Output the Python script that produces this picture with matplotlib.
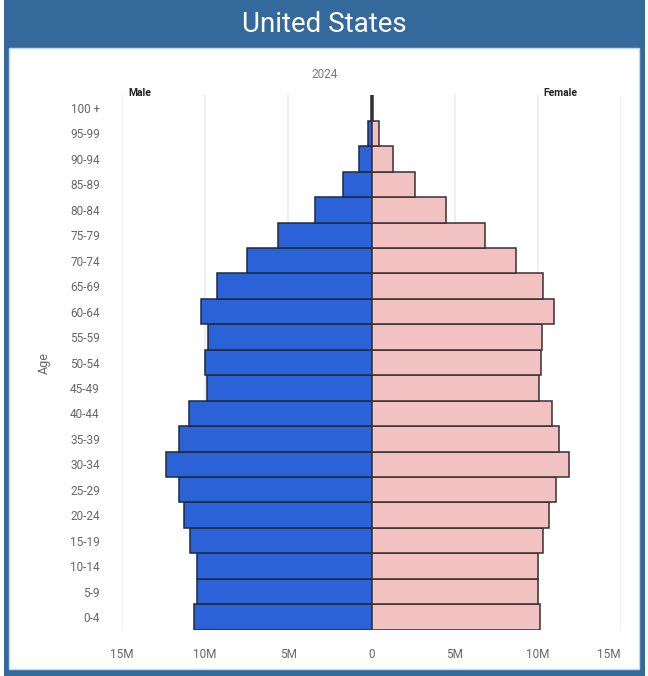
import matplotlib
matplotlib.use('Agg')
import matplotlib.pyplot as plt
from matplotlib.patches import Rectangle
import numpy as np

plt.rcParams['font.family'] = ['Roboto', 'DejaVu Sans']

# === 数据 (百万人) ===
age_groups = ['0-4', '5-9', '10-14', '15-19', '20-24', '25-29', '30-34', '35-39',
              '40-44', '45-49', '50-54', '55-59', '60-64', '65-69', '70-74',
              '75-79', '80-84', '85-89', '90-94', '95-99', '100 +']
male = [10.70, 10.52, 10.50, 10.94, 11.27, 11.58, 12.37, 11.60, 10.96, 9.90, 9.98,
        9.84, 10.26, 9.30, 7.50, 5.60, 3.37, 1.70, 0.74, 0.22, 0.03]
female = [10.14, 10.04, 9.98, 10.32, 10.68, 11.10, 11.89, 11.27, 10.88, 10.06, 10.22,
          10.26, 10.98, 10.30, 8.67, 6.80, 4.46, 2.60, 1.28, 0.45, 0.08]
xticks = [-15, -10, -5, 0, 5, 10, 15]
xtick_labels = ['15M', '10M', '5M', '0', '5M', '10M', '15M']

W, H = 648, 676
fig = plt.figure(figsize=(W / 100, H / 100), dpi=100)

# === 外框 + 标题栏 ===
frame_blue = '#34699c'
fig.patches.append(Rectangle((4 / W, 0), 641 / W, 1, transform=fig.transFigure,
                             facecolor=frame_blue, edgecolor='none', zorder=0))
fig.patches.append(Rectangle((9 / W, 7 / H), 630 / W, (H - 7 - 48) / H, transform=fig.transFigure,
                             facecolor='white', edgecolor='#c9d8e8', linewidth=1, zorder=1))
fig.text(0.5, 1 - 25 / H, 'United States', color='white', fontsize=20,
         ha='center', va='center')

# === 主图 ===
ax = fig.add_axes([122 / W, 1 - 629.7 / H, 499 / W, 534.4 / H])
ax.set_zorder(3)
ax.patch.set_alpha(0)
y = np.arange(len(age_groups))
ax.barh(y, [-v for v in male], height=1.0, color='#2c62d8', edgecolor='#1f2a3a',
        linewidth=1.1, zorder=3)
ax.barh(y, female, height=1.0, color='#f2c1c1', edgecolor='#3a3030',
        linewidth=1.1, zorder=3)

ax.set_xlim(-15, 15)
ax.set_ylim(-0.5, len(age_groups) - 0.5)
ax.set_xticks(xticks)
ax.set_xticklabels(xtick_labels)
ax.get_xticklabels()[-1].set_ha('right')
ax.set_yticks(y)
ax.set_yticklabels(age_groups)
ax.tick_params(axis='both', length=0, labelsize=8.5, labelcolor='#666666')
ax.tick_params(axis='x', pad=13)
ax.tick_params(axis='y', pad=16)
for xv in xticks:
    if xv != 0:
        ax.axvline(xv, color='#e9edf2', linewidth=1.2, zorder=1)
for s in ax.spines.values():
    s.set_visible(False)
ax.set_ylabel('Age', color='#666666', fontsize=9, labelpad=14)

fig.text(325 / W, 1 - 75 / H, '2024', color='#777777', fontsize=8.5, ha='center', va='center')
fig.text(128 / W, 1 - 93 / H, 'Male', color='#222222', fontsize=7.5, fontweight='bold',
         ha='left', va='center')
fig.text(543 / W, 1 - 93 / H, 'Female', color='#222222', fontsize=7.5, fontweight='bold',
         ha='left', va='center')

fig.savefig('out.png', dpi=100)
